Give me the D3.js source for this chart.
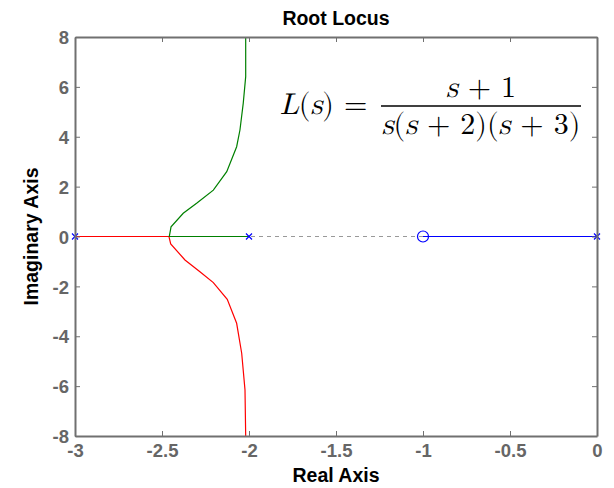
<!DOCTYPE html>
<html>
<head>
<meta charset="utf-8">
<script src="https://cdn.jsdelivr.net/npm/d3@7"></script>
<style>
  body { margin: 0; background: #fff; }
  svg text { font-family: "Liberation Sans", Arial, sans-serif; }
</style>
</head>
<body>
<script>
// poles and zeros of L(s)
const poles = [-3, -2, 0];
const zeros = [-1];

// locus branches
const greenRe = [-2, -2.458, -2.448, -2.378, -2.301, -2.205, -2.128, -2.071, -2.052, -2.033, -2.019, -2.019];
const greenIm = [0, 0, 0.39, 0.93, 1.33, 1.86, 2.60, 3.60, 4.27, 5.35, 6.41, 8.0];
const redRe = [-3, -2.460, -2.450, -2.368, -2.282, -2.205, -2.125, -2.071, -2.042, -2.023, -2.019];
const redIm = [0, 0, -0.30, -0.94, -1.41, -1.85, -2.52, -3.48, -4.68, -6.15, -8];
const blueRe = [-1, 0];
const blueIm = [0, 0];

const xTicks = [-3, -2.5, -2, -1.5, -1, -0.5, 0];
const yTicks = [-8, -6, -4, -2, 0, 2, 4, 6, 8];

const width = 614, height = 488;
const margin = {left: 75, right: 17, top: 37, bottom: 52};
const x0 = margin.left, x1 = width - margin.right;
const y0 = margin.top, y1 = height - margin.bottom;

var x = d3.scaleLinear().domain([-3, 0]).range([x0, x1]);
var y = d3.scaleLinear().domain([-8, 8]).range([y1, y0]);

var svg = d3.select("body").append("svg")
    .attr("width", width)
    .attr("height", height);

svg.append("defs").append("clipPath").attr("id", "plot")
  .append("rect")
    .attr("x", x0).attr("y", y0)
    .attr("width", x1 - x0).attr("height", y1 - y0);

// dashed real axis
svg.append("line")
    .attr("x1", x0).attr("x2", x1)
    .attr("y1", y(0)).attr("y2", y(0))
    .attr("stroke", "#999")
    .attr("stroke-dasharray", "4,4");

var line = d3.line().x(d => x(d[0])).y(d => y(d[1]));
var branches = [
  {re: redRe, im: redIm, color: "#ff0000"},
  {re: greenRe, im: greenIm, color: "#008000"},
  {re: blueRe, im: blueIm, color: "#0000ff"}
];

svg.append("g").attr("clip-path", "url(#plot)")
  .selectAll("path")
  .data(branches)
  .enter().append("path")
    .attr("d", b => line(b.re.map((r, i) => [r, b.im[i]])))
    .attr("fill", "none")
    .attr("stroke", b => b.color)
    .attr("stroke-width", 1.2);

// pole markers
var sz = 3;
svg.selectAll(".pole")
  .data(poles)
  .enter().append("path")
    .attr("class", "pole")
    .attr("d", p => {
      var cx = x(p), cy = y(0);
      return "M" + (cx - sz) + "," + (cy - sz) + "L" + (cx + sz) + "," + (cy + sz) +
             "M" + (cx - sz) + "," + (cy + sz) + "L" + (cx + sz) + "," + (cy - sz);
    })
    .attr("stroke", "#0000ff")
    .attr("stroke-width", 1.2);

// zero markers
svg.selectAll(".zero")
  .data(zeros)
  .enter().append("circle")
    .attr("cx", z => x(z))
    .attr("cy", y(0))
    .attr("r", 5.5)
    .attr("fill", "none")
    .attr("stroke", "#0000ff")
    .attr("stroke-width", 1.2);

// box axes with inside ticks
var axisColor = "#707070";
var fmt = d => d3.format("")(d).replace("−", "-");
var gb = svg.append("g").attr("transform", "translate(0," + y1 + ")")
    .call(d3.axisBottom(x).tickValues(xTicks).tickSizeInner(-5).tickSizeOuter(0).tickPadding(8).tickFormat(fmt));
var gt = svg.append("g").attr("transform", "translate(0," + y0 + ")")
    .call(d3.axisTop(x).tickValues(xTicks).tickSizeInner(-5).tickSizeOuter(0).tickFormat(""));
var gl = svg.append("g").attr("transform", "translate(" + x0 + ",0)")
    .call(d3.axisLeft(y).tickValues(yTicks).tickSizeInner(-5).tickSizeOuter(0).tickPadding(6).tickFormat(fmt));
var gr = svg.append("g").attr("transform", "translate(" + x1 + ",0)")
    .call(d3.axisRight(y).tickValues(yTicks).tickSizeInner(-5).tickSizeOuter(0).tickFormat(""));

[gb, gt, gl, gr].forEach(g => {
  g.select(".domain").attr("stroke", axisColor).attr("stroke-width", 2);
  g.selectAll(".tick line").attr("stroke", axisColor);
  g.selectAll(".tick text")
    .attr("fill", "#666")
    .style("font-family", "'Liberation Sans', Arial, sans-serif")
    .style("font-size", "18.5px")
    .style("font-weight", "bold");
});
gl.selectAll(".tick text").attr("dy", "0.36em");

// titles
svg.append("text")
    .attr("x", (x0 + x1) / 2).attr("y", 25)
    .attr("text-anchor", "middle")
    .attr("font-size", 19.5).attr("font-weight", "bold")
    .text("Root Locus");
svg.append("text")
    .attr("x", (x0 + x1) / 2).attr("y", 482)
    .attr("text-anchor", "middle")
    .attr("font-size", 19.5).attr("font-weight", "bold")
    .text("Real Axis");
svg.append("text")
    .attr("transform", "translate(38," + (y0 + y1) / 2 + ") rotate(-90)")
    .attr("text-anchor", "middle")
    .attr("font-size", 19.5).attr("font-weight", "bold")
    .text("Imaginary Axis");

// formula
var serif = "'Latin Modern Math', 'Liberation Serif', 'DejaVu Serif', serif";
var lhs = svg.append("text")
    .attr("x", 280).attr("y", 114)
    .style("font-family", serif).style("font-size", "30px");
lhs.append("tspan").attr("font-style", "italic").text("L");
lhs.append("tspan").text("(");
lhs.append("tspan").attr("font-style", "italic").text("s");
lhs.append("tspan").text(") =");

var num = svg.append("text")
    .attr("x", 481).attr("y", 97)
    .attr("text-anchor", "middle")
    .style("font-family", serif).style("font-size", "30px");
num.append("tspan").attr("font-style", "italic").text("s");
num.append("tspan").text(" + 1");

svg.append("line")
    .attr("x1", 381).attr("x2", 581)
    .attr("y1", 106).attr("y2", 106)
    .attr("stroke", "#000").attr("stroke-width", 1.3);

var den = svg.append("text")
    .attr("x", 481).attr("y", 134)
    .attr("text-anchor", "middle")
    .style("font-family", serif).style("font-size", "30px");
den.append("tspan").attr("font-style", "italic").text("s");
den.append("tspan").text("(");
den.append("tspan").attr("font-style", "italic").text("s");
den.append("tspan").text(" + 2)(");
den.append("tspan").attr("font-style", "italic").text("s");
den.append("tspan").text(" + 3)");
</script>
</body>
</html>
